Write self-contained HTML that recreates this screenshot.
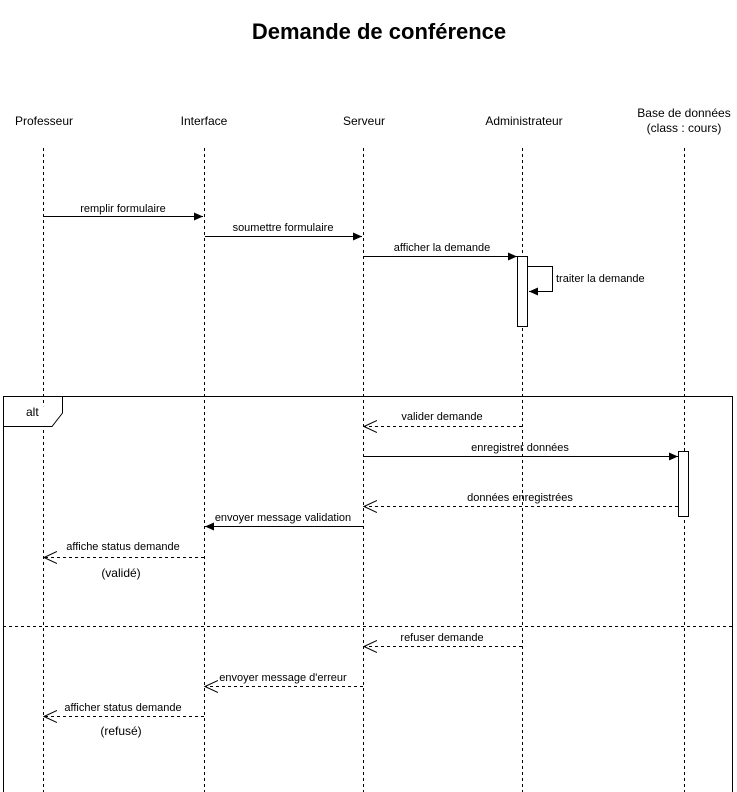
<!DOCTYPE html>
<html><head><meta charset="utf-8"><style>
body{margin:0;background:#fff;}
svg{display:block;font-family:"Liberation Sans",Arial,sans-serif;}
</style></head><body>
<svg width="737" height="792" viewBox="0 0 737 792" xmlns="http://www.w3.org/2000/svg">
<defs>
<marker id="f" markerWidth="10" markerHeight="10" refX="9" refY="5" orient="auto" markerUnits="userSpaceOnUse"><path d="M0,1 L9,5 L0,9 Z" fill="#000"/></marker>
<marker id="o" markerWidth="14" markerHeight="14" refX="13" refY="7" orient="auto" markerUnits="userSpaceOnUse"><path d="M0,1 L13,7 L0,13" fill="none" stroke="#000"/></marker>
</defs>
<text x="379" y="39" font-size="22" font-weight="bold" text-anchor="middle">Demande de conférence</text>
<g font-size="12" text-anchor="middle">
<text x="44" y="125">Professeur</text>
<text x="204" y="125">Interface</text>
<text x="364" y="125">Serveur</text>
<text x="524" y="125">Administrateur</text>
<text x="684" y="117">Base de données</text>
<text x="684" y="132">(class : cours)</text>
</g>
<g stroke="#000" stroke-dasharray="3,3" fill="none">
<line x1="43.5" y1="148" x2="43.5" y2="792"/>
<line x1="204.5" y1="148" x2="204.5" y2="792"/>
<line x1="363.5" y1="148" x2="363.5" y2="792"/>
<line x1="522.5" y1="148" x2="522.5" y2="792"/>
<line x1="684.5" y1="148" x2="684.5" y2="792"/>
</g>
<rect x="3.5" y="396.5" width="729" height="400" fill="none" stroke="#000"/>
<path d="M3.5,426.5 H52 L62.5,413 V396.5" fill="#fff" stroke="#000"/>
<text x="26" y="416" font-size="12">alt</text>
<line x1="3" y1="626.5" x2="733" y2="626.5" stroke="#000" stroke-dasharray="3,3"/>
<rect x="517.5" y="256.5" width="10" height="70" fill="#fff" stroke="#000"/>
<rect x="678.5" y="451.5" width="10" height="65" fill="#fff" stroke="#000"/>
<g stroke="#000" fill="none">
<line x1="44" y1="216.5" x2="203" y2="216.5" marker-end="url(#f)"/>
<line x1="205" y1="236.5" x2="362" y2="236.5" marker-end="url(#f)"/>
<line x1="364" y1="256.5" x2="517" y2="256.5" marker-end="url(#f)"/>
<polyline points="528,266.5 552.5,266.5 552.5,291.5 529,291.5" marker-end="url(#f)"/>
<line x1="522" y1="426.5" x2="364" y2="426.5" stroke-dasharray="3,3" marker-end="url(#o)"/>
<line x1="364" y1="456.5" x2="678" y2="456.5" marker-end="url(#f)"/>
<line x1="678" y1="506.5" x2="364" y2="506.5" stroke-dasharray="3,3" marker-end="url(#o)"/>
<line x1="363" y1="526.5" x2="205" y2="526.5" marker-end="url(#f)"/>
<line x1="204" y1="557.5" x2="44" y2="557.5" stroke-dasharray="3,3" marker-end="url(#o)"/>
<line x1="522" y1="646.5" x2="364" y2="646.5" stroke-dasharray="3,3" marker-end="url(#o)"/>
<line x1="363" y1="686.5" x2="205" y2="686.5" stroke-dasharray="3,3" marker-end="url(#o)"/>
<line x1="204" y1="716.5" x2="44" y2="716.5" stroke-dasharray="3,3" marker-end="url(#o)"/>
</g>
<g font-size="11" text-anchor="middle">
<text x="123" y="212">remplir formulaire</text>
<text x="283" y="231">soumettre formulaire</text>
<text x="442" y="251">afficher la demande</text>
<text x="556" y="282" text-anchor="start">traiter la demande</text>
<text x="442" y="420">valider demande</text>
<text x="520" y="451">enregistrer données</text>
<text x="520" y="501">données enregistrées</text>
<text x="283" y="521">envoyer message validation</text>
<text x="123" y="550">affiche status demande</text>
<text x="121" y="577" font-size="12">(validé)</text>
<text x="442" y="641">refuser demande</text>
<text x="283" y="681">envoyer message d'erreur</text>
<text x="123" y="711">afficher status demande</text>
<text x="121" y="735" font-size="12">(refusé)</text>
</g>
</svg>
</body></html>
